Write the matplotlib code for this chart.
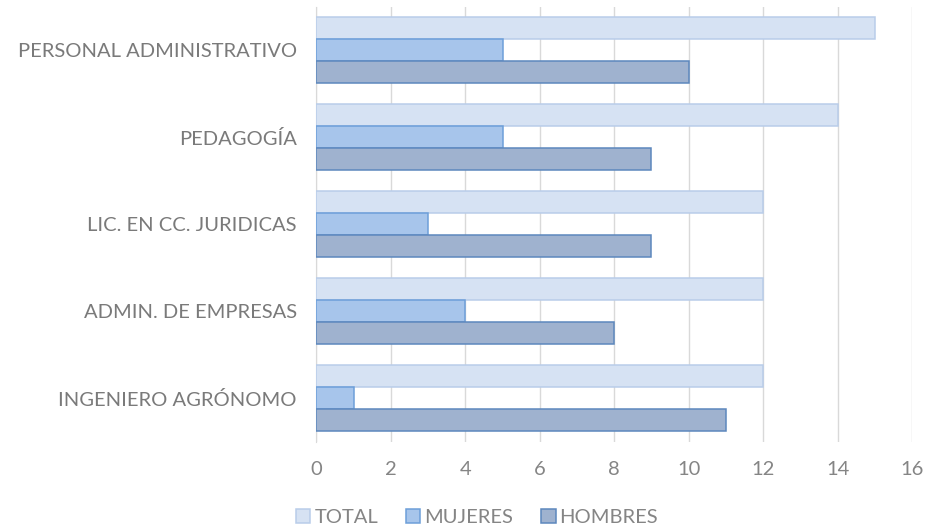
import numpy as np
import matplotlib.pyplot as plt

plt.rcParams["font.family"] = ["Lato", "DejaVu Sans"]

categories = ["PERSONAL ADMINISTRATIVO", "PEDAGOGÍA", "LIC. EN CC. JURIDICAS",
              "ADMIN. DE EMPRESAS", "INGENIERO AGRÓNOMO"]
total = [15, 14, 12, 12, 12]
mujeres = [5, 5, 3, 4, 1]
hombres = [10, 9, 9, 8, 11]

series = [
    ("TOTAL", total, "#d6e2f3", "#b9cde9"),
    ("MUJERES", mujeres, "#a7c5eb", "#6d9fd9"),
    ("HOMBRES", hombres, "#9fb2cf", "#5d87bd"),
]

fig = plt.figure(figsize=(9.25, 5.31), dpi=100)
ax = fig.add_axes([0.342, 0.168, 0.644, 0.819])

y = np.arange(len(categories))
h = 0.253
for i, (name, vals, face, edge) in enumerate(series):
    ax.barh(y - h + i * h, vals, height=h, color=face, edgecolor=edge,
            linewidth=1.1, label=name, zorder=3)

ax.set_ylim(len(categories) - 0.5, -0.5)
ax.set_xlim(0, 16)
ax.set_xticks(range(0, 17, 2))
ax.set_yticks(y)
ax.set_yticklabels(categories)
ax.grid(axis="x", color="#d9d9d9", linewidth=1, zorder=0)
ax.tick_params(axis="x", length=0, pad=14, labelsize=14.5, labelcolor="#858585")
ax.tick_params(axis="y", length=0, pad=14, labelsize=14.5, labelcolor="#7a7a7a")
for s in ["top", "right", "bottom"]:
    ax.spines[s].set_visible(False)
ax.spines["left"].set_color("#d9d9d9")

ax.legend(loc="center", bbox_to_anchor=(0.27, -0.175), ncol=3, frameon=False,
          labelcolor="#858585", handlelength=0.7, handleheight=0.7,
          handletextpad=0.2, columnspacing=1.4, fontsize=14.5)

fig.savefig("out.png", dpi=100)
